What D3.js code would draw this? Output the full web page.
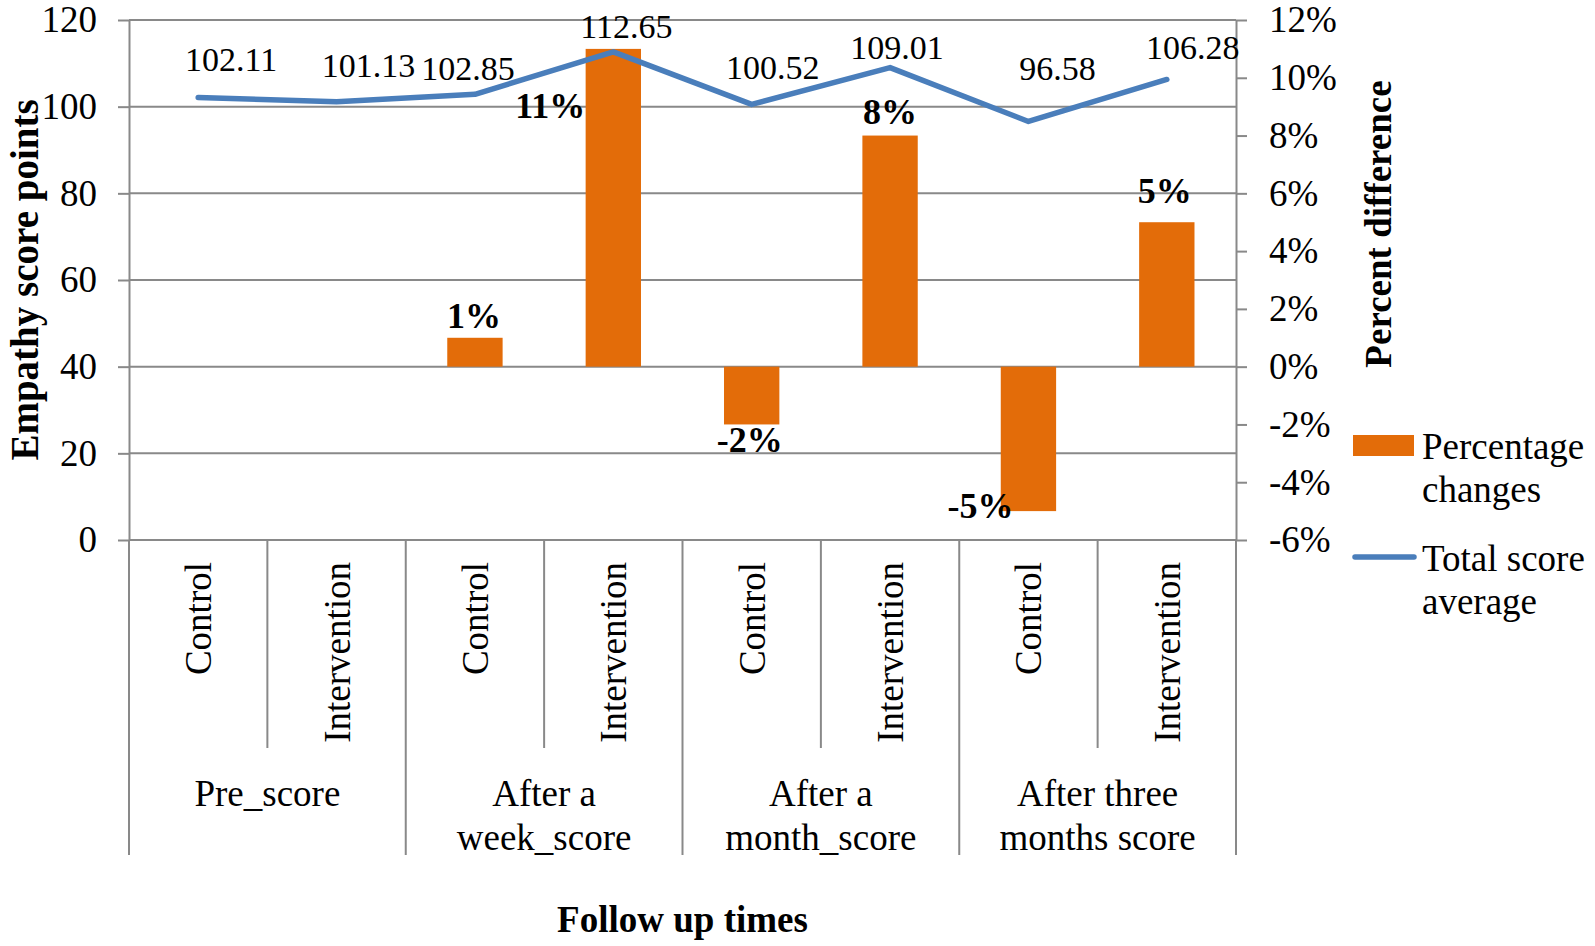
<!DOCTYPE html>
<html>
<head>
<meta charset="utf-8">
<script src="https://cdn.jsdelivr.net/npm/d3@7"></script>
<style>
  body { margin: 0; background: #fff; }
  text { font-family: "Liberation Serif", "Times New Roman", serif; fill: #000; }
</style>
</head>
<body>
<svg></svg>
<script>
var width = 1595,
    height = 946;

// data
var groups = ["Pre_score", "After a week_score", "After a month_score", "After three months score"];
var groupLines = [["Pre_score"], ["After a", "week_score"], ["After a", "month_score"], ["After three", "months score"]];
var subgroups = ["Control", "Intervention"];
var scoreAvg = [102.11, 101.13, 102.85, 112.65, 100.52, 109.01, 96.58, 106.28];
var pctChange = [null, null, 1, 11, -2, 8, -5, 5];
var leftTicks = [0, 20, 40, 60, 80, 100, 120];
var rightTicks = [-6, -4, -2, 0, 2, 4, 6, 8, 10, 12];

// label nudges (hand placed in the original)
var lineLabelNudge = [[33, -27], [32, -25], [-7, -14], [13, -14], [21, -25], [7, -9], [29, -41], [26, -20]];
var barLabelNudge = [null, null, [-1, -10], [-63, 69], [-2, 28], [0, -12], [-48, 7], [-2, -19]];

var margin = { left: 129, right: 1236, top: 20, bottom: 540 };
var orange = "#e36c09", blue = "#4a7ebb", grid = "#898989";
var fs = 37;

var svg = d3.select("svg")
    .attr("width", width)
    .attr("height", height);

var cats = [];
groups.forEach(function (g) { subgroups.forEach(function (s) { cats.push(g + "|" + s); }); });

var x = d3.scaleBand().domain(cats).range([margin.left, margin.right]).paddingInner(0).paddingOuter(0);
var xBar = d3.scaleBand().domain(cats).range([margin.left, margin.right]).paddingInner(0.6).paddingOuter(0.3);
var xg = d3.scaleBand().domain(groups).range([margin.left, margin.right]);
var y = d3.scaleLinear().domain([0, 120]).range([margin.bottom, margin.top]);
var y2 = d3.scaleLinear().domain([-6, 12]).range([margin.bottom, margin.top]);

// gridlines
svg.append("g").selectAll("line")
    .data(leftTicks)
    .enter().append("line")
    .attr("x1", margin.left).attr("x2", margin.right)
    .attr("y1", d => y(d)).attr("y2", d => y(d))
    .attr("stroke", grid).attr("stroke-width", 2);

// left axis
var gl = svg.append("g")
    .attr("transform", "translate(" + margin.left + ",0)")
    .call(d3.axisLeft(y).tickValues(leftTicks).tickSize(11).tickSizeOuter(0).tickPadding(21));
gl.select(".domain").attr("stroke", grid).attr("stroke-width", 2);
gl.selectAll(".tick line").attr("stroke", grid).attr("stroke-width", 2);
gl.selectAll(".tick text").style("font-size", fs + "px").style("font-family", "Liberation Serif").attr("fill", "#000");

// right axis
var gr = svg.append("g")
    .attr("transform", "translate(" + margin.right + ",0)")
    .call(d3.axisRight(y2).tickValues(rightTicks).tickSize(11).tickSizeOuter(0).tickPadding(22)
        .tickFormat(d => d + "%"));
gr.select(".domain").attr("stroke", grid).attr("stroke-width", 2);
gr.selectAll(".tick line").attr("stroke", grid).attr("stroke-width", 2);
gr.selectAll(".tick text").style("font-size", fs + "px").style("font-family", "Liberation Serif").attr("fill", "#000");

// category axis separators
var seps = svg.append("g").attr("stroke", grid).attr("stroke-width", 2);
cats.forEach(function (c, i) {
    var left = x(c);
    var isGroupEdge = i % 2 === 0;
    seps.append("line")
        .attr("x1", left).attr("x2", left)
        .attr("y1", margin.bottom).attr("y2", isGroupEdge ? 855 : 748);
});
seps.append("line")
    .attr("x1", margin.right).attr("x2", margin.right)
    .attr("y1", margin.bottom).attr("y2", 855);

// sub-category labels (rotated)
svg.append("g").selectAll("text")
    .data(cats)
    .enter().append("text")
    .attr("transform", d => "translate(" + (x(d) + x.bandwidth() / 2) + "," + (margin.bottom + 22) + ") rotate(-90)")
    .attr("text-anchor", "end")
    .attr("dy", "0.35em")
    .style("font-size", fs + "px")
    .text(d => d.split("|")[1]);

// group labels
var gText = svg.append("g").selectAll("text")
    .data(groups)
    .enter().append("text")
    .attr("x", d => xg(d) + xg.bandwidth() / 2)
    .attr("y", 806)
    .attr("text-anchor", "middle")
    .style("font-size", fs + "px");
gText.selectAll("tspan")
    .data((d, i) => groupLines[i])
    .enter().append("tspan")
    .attr("x", function () { return d3.select(this.parentNode).attr("x"); })
    .attr("dy", (d, i) => i === 0 ? 0 : 44)
    .text(d => d);

// bars
var barData = cats.map((c, i) => ({ cat: c, v: pctChange[i], i: i })).filter(d => d.v !== null);
svg.append("g").selectAll("rect")
    .data(barData)
    .enter().append("rect")
    .attr("x", d => x(d.cat) + (x.bandwidth() - xBar.bandwidth()) / 2)
    .attr("width", xBar.bandwidth())
    .attr("y", d => y2(Math.max(0, d.v)))
    .attr("height", d => Math.abs(y2(d.v) - y2(0)))
    .attr("fill", orange);

// line
var line = d3.line()
    .x((d, i) => x(cats[i]) + x.bandwidth() / 2)
    .y(d => y(d));
svg.append("path")
    .datum(scoreAvg)
    .attr("d", line)
    .attr("fill", "none")
    .attr("stroke", blue)
    .attr("stroke-width", 5.5)
    .attr("stroke-linecap", "round")
    .attr("stroke-linejoin", "round");

// line labels
svg.append("g").selectAll("text")
    .data(scoreAvg)
    .enter().append("text")
    .attr("x", (d, i) => x(cats[i]) + x.bandwidth() / 2 + lineLabelNudge[i][0])
    .attr("y", (d, i) => y(d) + lineLabelNudge[i][1])
    .attr("text-anchor", "middle")
    .style("font-size", "34px")
    .text(d => d.toFixed(2));

// bar labels
svg.append("g").selectAll("text")
    .data(barData)
    .enter().append("text")
    .attr("x", d => x(d.cat) + x.bandwidth() / 2 + barLabelNudge[d.i][0])
    .attr("y", d => y2(d.v) + barLabelNudge[d.i][1])
    .attr("text-anchor", "middle")
    .style("font-size", "36px")
    .style("font-weight", "bold")
    .text(d => d.v + "%");

// axis titles
svg.append("text")
    .attr("transform", "translate(" + 38 + "," + 280 + ") rotate(-90)")
    .attr("text-anchor", "middle")
    .style("font-size", "39px").style("font-weight", "bold")
    .text("Empathy score points");

svg.append("text")
    .attr("transform", "translate(" + 1391 + "," + 224 + ") rotate(-90)")
    .attr("text-anchor", "middle")
    .style("font-size", "37px").style("font-weight", "bold")
    .text("Percent difference");

svg.append("text")
    .attr("x", (margin.left + margin.right) / 2)
    .attr("y", 932)
    .attr("text-anchor", "middle")
    .style("font-size", "37px").style("font-weight", "bold")
    .text("Follow up times");

// legend
var leg = svg.append("g").attr("transform", "translate(1353,0)");
leg.append("rect").attr("x", 0).attr("y", 435).attr("width", 61).attr("height", 21).attr("fill", orange);
leg.append("text").attr("x", 69).attr("y", 459).style("font-size", fs + "px").text("Percentage");
leg.append("text").attr("x", 69).attr("y", 502).style("font-size", fs + "px").text("changes");
leg.append("line").attr("x1", 2).attr("x2", 61).attr("y1", 557).attr("y2", 557)
    .attr("stroke", blue).attr("stroke-width", 5.5).attr("stroke-linecap", "round");
leg.append("text").attr("x", 69).attr("y", 571).style("font-size", fs + "px").text("Total score");
leg.append("text").attr("x", 69).attr("y", 614).style("font-size", fs + "px").text("average");
</script>
</body>
</html>
